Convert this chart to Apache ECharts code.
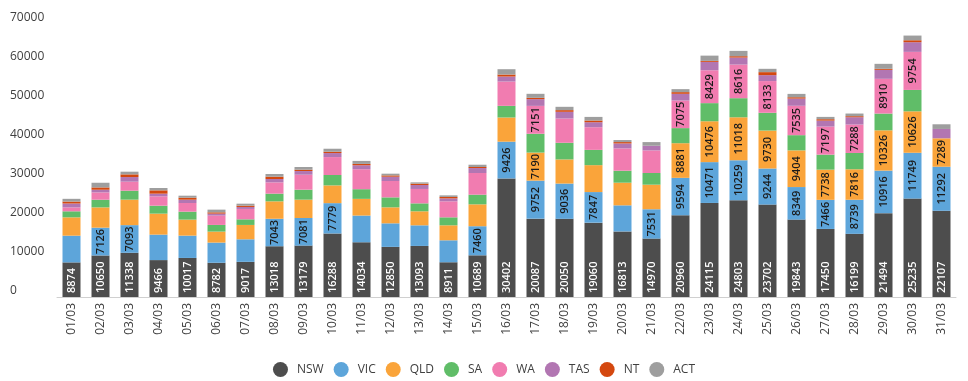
<!DOCTYPE html>
<html>
<head>
<meta charset="utf-8">
<script src="https://cdn.jsdelivr.net/npm/echarts@6/dist/echarts.min.js"></script>
<style>
html,body{margin:0;padding:0;background:#fff;}
#chart{width:968px;height:381px;}
</style>
</head>
<body>
<div id="chart"></div>
<script>
const dates = ['01/03','02/03','03/03','04/03','05/03','06/03','07/03','08/03','09/03','10/03','11/03','12/03','13/03','14/03','15/03','16/03','17/03','18/03','19/03','20/03','21/03','22/03','23/03','24/03','25/03','26/03','27/03','28/03','29/03','30/03','31/03'];
const seriesNames = ['NSW','VIC','QLD','SA','WA','TAS','NT','ACT'];
const NSW = [8874,10650,11338,9466,10017,8782,9017,13018,13179,16288,14034,12850,13093,8911,10689,30402,20087,20050,19060,16813,14970,20960,24115,24803,23702,19843,17450,16199,21494,25235,22107];
const VIC = [6850,7126,7093,6530,5720,5170,5780,7043,7081,7779,6850,6040,5290,5630,7460,9426,9752,9036,7847,6690,7531,9594,10471,10259,9244,8349,7466,8739,10916,11749,11292];
const QLD = [4700,5200,6530,5380,4100,2820,3680,4470,4700,4550,4280,4100,3590,3840,5610,6200,7190,6190,6900,5810,6300,8881,10476,11018,9730,9404,7738,7816,10326,10626,7289];
const SA  = [1550,1970,2300,2040,2050,1710,1440,1970,2560,2660,2480,2560,2040,2050,2480,2990,4830,4270,3920,3070,2990,3870,4650,4900,4560,3900,3850,4180,4300,5490,0];
const WA  = [1000,1870,2310,2390,2220,2390,2660,2890,3840,4600,5120,4190,3690,4100,5550,6230,7151,6220,5810,5720,5790,7075,8429,8616,8133,7535,7197,7288,8910,9754,0];
const TAS = [1000,690,1190,690,850,510,510,860,940,1030,1020,1110,1020,760,1280,1280,1730,1720,1280,1270,1200,1720,2150,1800,1520,1850,1530,1880,2300,2480,2400];
const NT  = [500,590,680,850,510,330,330,600,340,340,340,330,340,360,260,510,330,430,430,350,0,430,250,350,770,340,360,260,260,500,0];
const ACT = [700,1200,690,600,510,690,510,690,690,770,770,440,330,410,590,1370,1030,850,930,520,940,770,1350,1360,850,860,590,680,1280,1200,1200];
const yTicks = [0,10000,20000,30000,40000,50000,60000,70000];

const seriesData = [NSW,VIC,QLD,SA,WA,TAS,NT,ACT];
const colors = ['#4d4d4d','#5da5da','#faa43a','#60bd68','#f17cb0','#b276b2','#d4480f','#9e9e9e'];
const FONT = '"Open Sans", "Noto Sans", sans-serif';

const chart = echarts.init(document.getElementById('chart'), null, {renderer:'canvas'});
const fmt = p => (p.value >= 7000 ? String(p.value) : '');

const series = seriesNames.map((name, i) => {
  const s = {
    name: name,
    type: 'bar',
    stack: 'total',
    barWidth: 18,
    data: seriesData[i],
    itemStyle: {color: colors[i]},
    emphasis: {disabled: true},
    label: {
      show: true,
      rotate: 90,
      formatter: fmt,
      fontFamily: FONT,
      fontSize: 11,
      fontWeight: 600,
      color: '#1a1a1a',
      position: 'inside'
    }
  };
  if (name === 'NSW') {
    s.label.position = 'insideBottom';
    s.label.align = 'left';
    s.label.verticalAlign = 'middle';
    s.label.distance = 4;
    s.label.color = '#ffffff';
  }
  return s;
});

chart.setOption({
  animation: false,
  color: colors,
  grid: {left: 57, right: 12, top: 24, bottom: 84, containLabel: false},
  legend: {
    data: seriesNames,
    left: 'center',
    top: 357,
    icon: 'circle',
    itemWidth: 15,
    itemHeight: 15,
    itemGap: 10,
    textStyle: {fontFamily: FONT, fontSize: 12, color: '#404040', padding: [0,0,0,4]}
  },
  xAxis: {
    type: 'category',
    data: dates,
    axisLine: {lineStyle: {color: '#d0d0d0', width: 1}},
    axisTick: {show: false},
    axisLabel: {rotate: 90, fontFamily: FONT, fontSize: 12, color: '#404040', margin: 6, interval: 0}
  },
  yAxis: {
    type: 'value',
    min: yTicks[0],
    max: yTicks[yTicks.length-1],
    interval: yTicks[1]-yTicks[0],
    splitLine: {show: false},
    axisLine: {show: false},
    axisTick: {show: false},
    axisLabel: {fontFamily: FONT, fontSize: 12, color: '#404040', align: 'left', margin: 47, verticalAlign: 'bottom', formatter: v => String(v)}
  },
  series: series
});
</script>
</body>
</html>
